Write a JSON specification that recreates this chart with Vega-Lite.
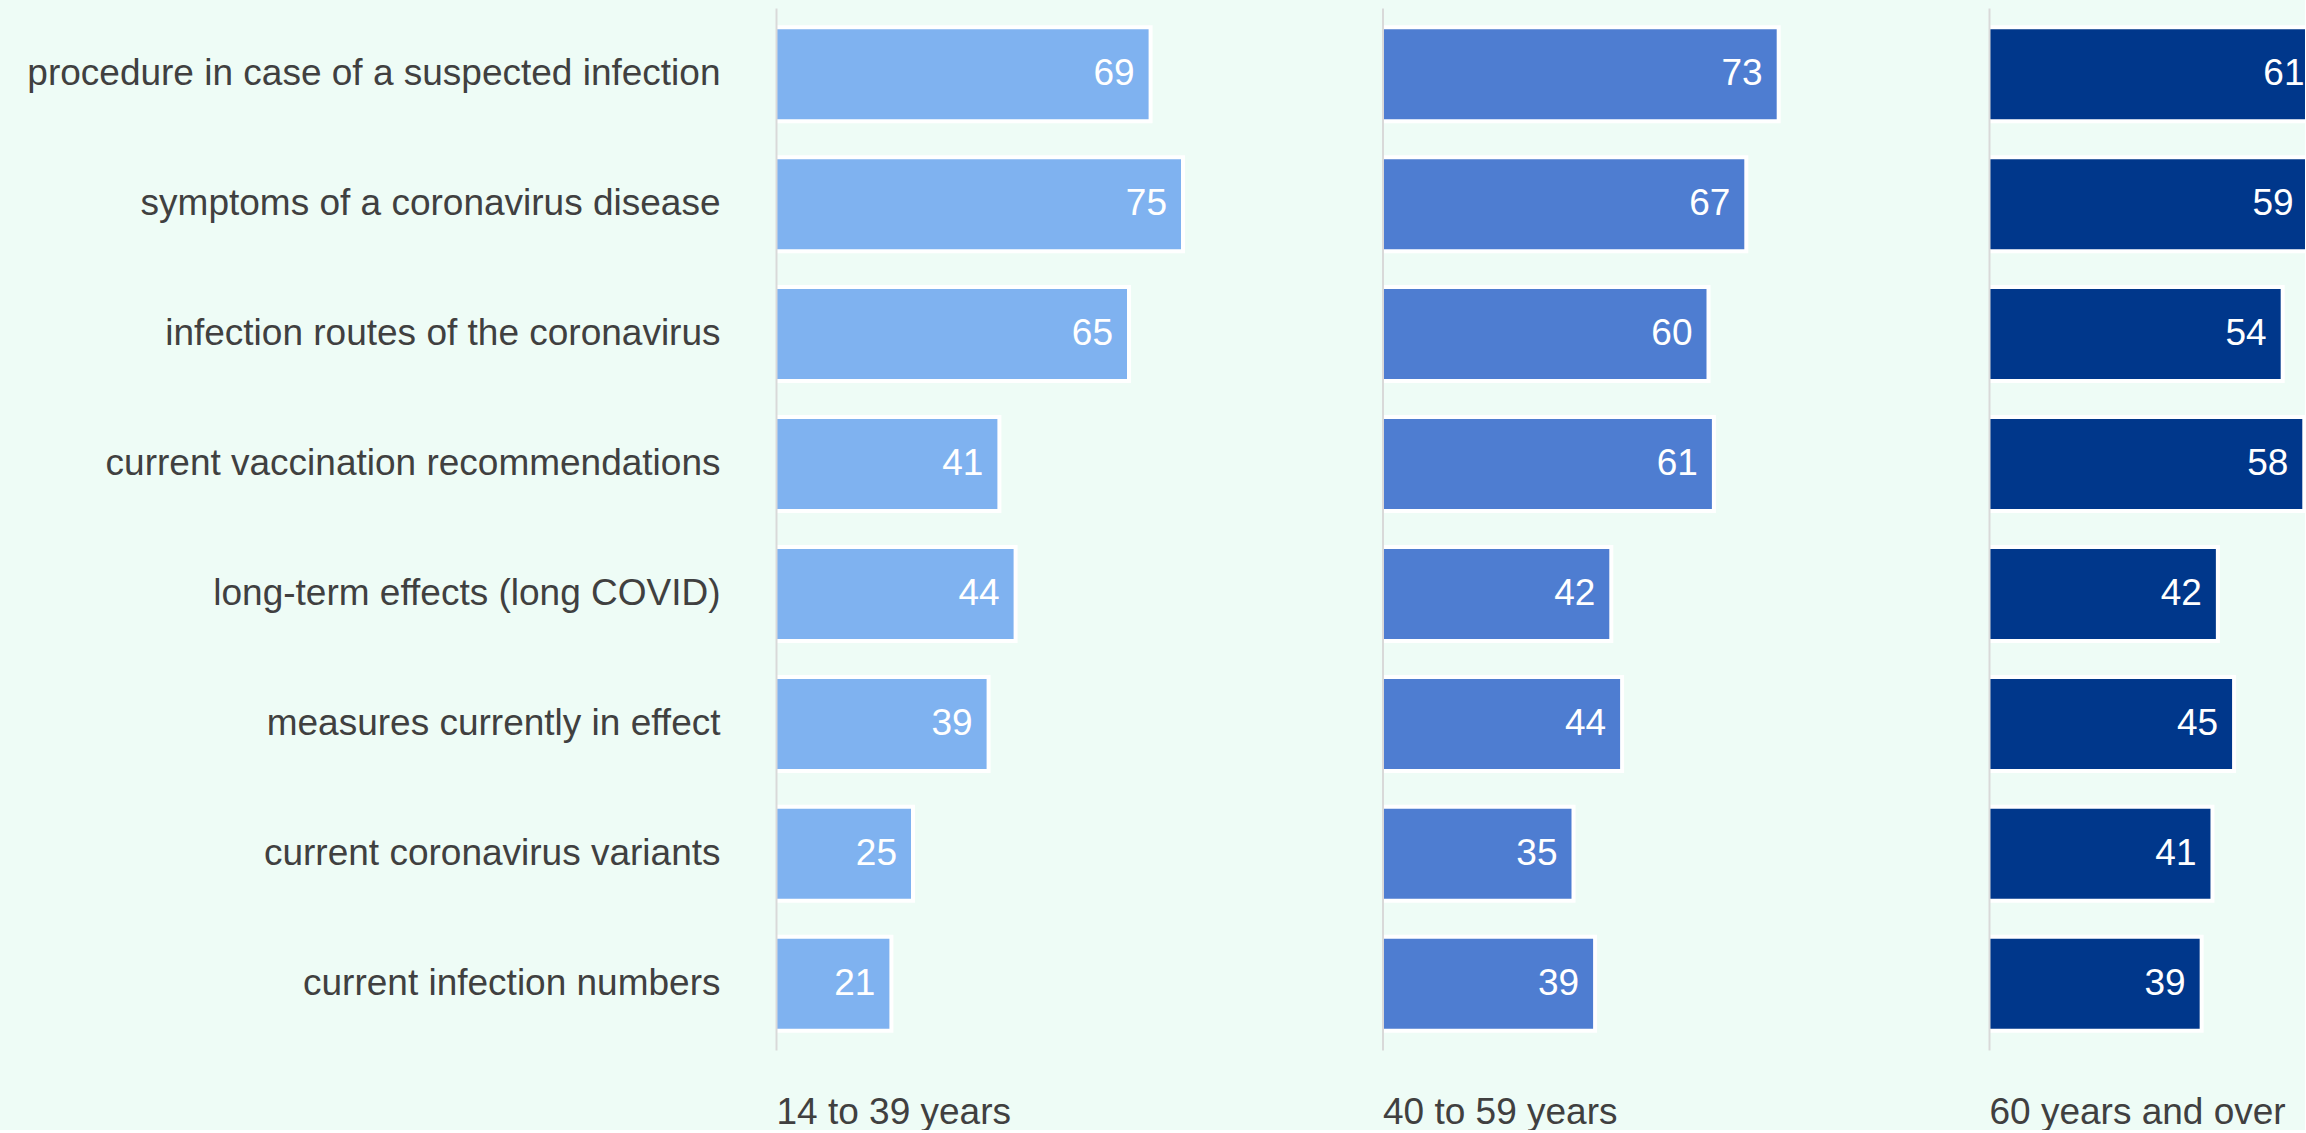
{
  "$schema": "https://vega.github.io/schema/vega-lite/v6.json",
  "background": "#eefcf6",
  "padding": {"left": 26, "top": 8, "right": 0, "bottom": 0},
  "bounds": "flush",
  "config": {
    "view": {"stroke": null},
    "concat": {"spacing": 66.5},
    "font": "Liberation Sans",
    "axis": {
      "labelFont": "Liberation Sans",
      "titleFont": "Liberation Sans",
      "grid": false
    }
  },
  "data": {
    "values": [
      {"topic": "procedure in case of a suspected infection", "group": "14 to 39 years", "value": 69},
      {"topic": "symptoms of a coronavirus disease", "group": "14 to 39 years", "value": 75},
      {"topic": "infection routes of the coronavirus", "group": "14 to 39 years", "value": 65},
      {"topic": "current vaccination recommendations", "group": "14 to 39 years", "value": 41},
      {"topic": "long-term effects (long COVID)", "group": "14 to 39 years", "value": 44},
      {"topic": "measures currently in effect", "group": "14 to 39 years", "value": 39},
      {"topic": "current coronavirus variants", "group": "14 to 39 years", "value": 25},
      {"topic": "current infection numbers", "group": "14 to 39 years", "value": 21},
      {"topic": "procedure in case of a suspected infection", "group": "40 to 59 years", "value": 73},
      {"topic": "symptoms of a coronavirus disease", "group": "40 to 59 years", "value": 67},
      {"topic": "infection routes of the coronavirus", "group": "40 to 59 years", "value": 60},
      {"topic": "current vaccination recommendations", "group": "40 to 59 years", "value": 61},
      {"topic": "long-term effects (long COVID)", "group": "40 to 59 years", "value": 42},
      {"topic": "measures currently in effect", "group": "40 to 59 years", "value": 44},
      {"topic": "current coronavirus variants", "group": "40 to 59 years", "value": 35},
      {"topic": "current infection numbers", "group": "40 to 59 years", "value": 39},
      {"topic": "procedure in case of a suspected infection", "group": "60 years and over", "value": 61},
      {"topic": "symptoms of a coronavirus disease", "group": "60 years and over", "value": 59},
      {"topic": "infection routes of the coronavirus", "group": "60 years and over", "value": 54},
      {"topic": "current vaccination recommendations", "group": "60 years and over", "value": 58},
      {"topic": "long-term effects (long COVID)", "group": "60 years and over", "value": 42},
      {"topic": "measures currently in effect", "group": "60 years and over", "value": 45},
      {"topic": "current coronavirus variants", "group": "60 years and over", "value": 41},
      {"topic": "current infection numbers", "group": "60 years and over", "value": 39}
    ]
  },
  "hconcat": [
    {
      "width": 540,
      "height": 1042,
      "transform": [{"filter": "datum.group == '14 to 39 years'"}],
      "encoding": {
        "y": {
          "field": "topic",
          "type": "nominal",
          "sort": null,
          "scale": {"paddingInner": 0.3, "paddingOuter": 0.16},
          "axis": {
            "title": null,
            "ticks": false,
            "tickSize": 0,
            "labelPadding": 56,
            "labelLimit": 900,
            "labelFontSize": 37,
            "labelColor": "#404040",
            "domainColor": "#d9d9d9",
            "domainWidth": 2,
            "zindex": 1
          }
        },
        "x": {
          "field": "value",
          "type": "quantitative",
          "scale": {"domain": [0, 100], "nice": false},
          "axis": {
            "title": "14 to 39 years",
            "labels": false,
            "ticks": false,
            "domain": false,
            "minExtent": 0,
            "titleAnchor": "start",
            "titleAlign": "left",
            "titleFontSize": 37,
            "titleFontWeight": "normal",
            "titleColor": "#404040",
            "titleBaseline": "alphabetic",
            "titlePadding": 73
          }
        }
      },
      "layer": [
        {
          "mark": {"type": "bar", "color": "#ffffff", "size": 98, "xOffset": 4},
          "encoding": {"x2": {"datum": 0}}
        },
        {
          "mark": {"type": "bar", "color": "#7fb2f0", "size": 90},
          "encoding": {"x2": {"datum": 0}}
        },
        {
          "mark": {"type": "text", "align": "right", "baseline": "middle", "dx": -14, "color": "#ffffff", "fontSize": 37},
          "encoding": {"text": {"field": "value", "type": "quantitative"}}
        }
      ]
    },
    {
      "width": 540,
      "height": 1042,
      "transform": [{"filter": "datum.group == '40 to 59 years'"}],
      "encoding": {
        "y": {
          "field": "topic",
          "type": "nominal",
          "sort": null,
          "scale": {"paddingInner": 0.3, "paddingOuter": 0.16},
          "axis": {
            "title": null,
            "labels": false,
            "ticks": false,
            "domainColor": "#d9d9d9",
            "domainWidth": 2,
            "zindex": 1
          }
        },
        "x": {
          "field": "value",
          "type": "quantitative",
          "scale": {"domain": [0, 100], "nice": false},
          "axis": {
            "title": "40 to 59 years",
            "labels": false,
            "ticks": false,
            "domain": false,
            "minExtent": 0,
            "titleAnchor": "start",
            "titleAlign": "left",
            "titleFontSize": 37,
            "titleFontWeight": "normal",
            "titleColor": "#404040",
            "titleBaseline": "alphabetic",
            "titlePadding": 73
          }
        }
      },
      "layer": [
        {
          "mark": {"type": "bar", "color": "#ffffff", "size": 98, "xOffset": 4},
          "encoding": {"x2": {"datum": 0}}
        },
        {
          "mark": {"type": "bar", "color": "#4e7dd1", "size": 90},
          "encoding": {"x2": {"datum": 0}}
        },
        {
          "mark": {"type": "text", "align": "right", "baseline": "middle", "dx": -14, "color": "#ffffff", "fontSize": 37},
          "encoding": {"text": {"field": "value", "type": "quantitative"}}
        }
      ]
    },
    {
      "width": 316,
      "height": 1042,
      "transform": [{"filter": "datum.group == '60 years and over'"}],
      "encoding": {
        "y": {
          "field": "topic",
          "type": "nominal",
          "sort": null,
          "scale": {"paddingInner": 0.3, "paddingOuter": 0.16},
          "axis": {
            "title": null,
            "labels": false,
            "ticks": false,
            "domainColor": "#d9d9d9",
            "domainWidth": 2,
            "zindex": 1
          }
        },
        "x": {
          "field": "value",
          "type": "quantitative",
          "scale": {"domain": [0, 58.5], "nice": false},
          "axis": {
            "title": "60 years and over",
            "labels": false,
            "ticks": false,
            "domain": false,
            "minExtent": 0,
            "titleAnchor": "start",
            "titleAlign": "left",
            "titleFontSize": 37,
            "titleFontWeight": "normal",
            "titleColor": "#404040",
            "titleBaseline": "alphabetic",
            "titlePadding": 73
          }
        }
      },
      "layer": [
        {
          "mark": {"type": "bar", "color": "#ffffff", "size": 98, "xOffset": 4, "clip": true},
          "encoding": {"x2": {"datum": 0}}
        },
        {
          "mark": {"type": "bar", "color": "#00378b", "size": 90, "clip": true},
          "encoding": {"x2": {"datum": 0}}
        },
        {
          "mark": {"type": "text", "align": "right", "baseline": "middle", "dx": -14, "color": "#ffffff", "fontSize": 37},
          "encoding": {"text": {"field": "value", "type": "quantitative"}}
        }
      ]
    }
  ]
}
